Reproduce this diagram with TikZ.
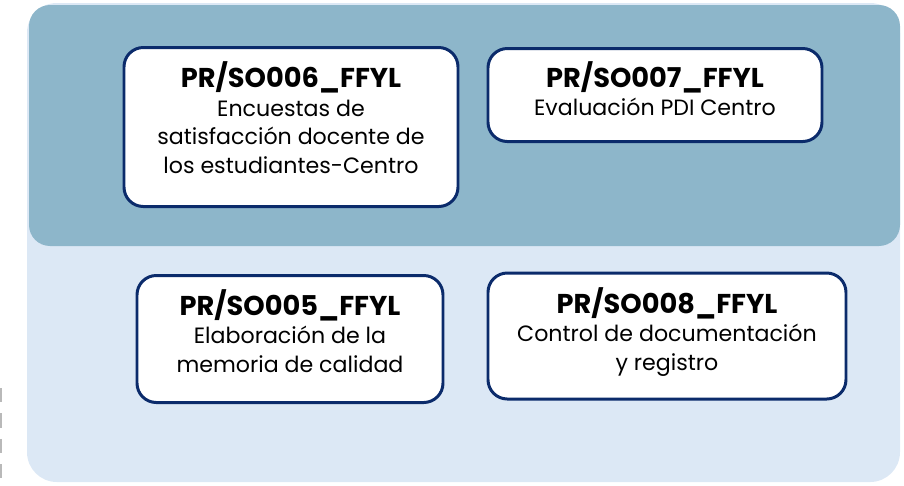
\documentclass[tikz,border=0pt]{standalone}
\usepackage{fontspec}
\setmainfont{Poppins}
\definecolor{panellight}{HTML}{DCE8F5}
\definecolor{paneldark}{HTML}{8DB6CA}
\definecolor{navy}{HTML}{0B2B6B}
\newcommand{\proctitle}[1]{{\fontsize{15.5}{18}\selectfont\bfseries #1}}
\begin{document}
\begin{tikzpicture}[x=0.02cm, y=-0.02cm,
    proc/.style={draw=navy, line width=1.7pt, fill=white, rounded corners=11pt,
      inner sep=0pt},
    proctext/.style={align=center, inner sep=0pt,
      font=\fontsize{12.6}{16.2}\selectfont}]
  \useasboundingbox (0,0) rectangle (904,485);
  % panels
  \fill[panellight, rounded corners=17pt] (27,3) rectangle (900,482);
  \fill[paneldark, rounded corners=12pt] (29,5) rectangle (900,246);
  \draw[gray!55, line width=1.2pt, dash pattern=on 8pt off 6.5pt] (1,388) -- (1,485);
  % boxes
  \node[proc, minimum width=334*0.02cm, minimum height=159*0.02cm,
    label={[proctext, yshift=5.3pt]center:{\proctitle{PR/SO006\_FFYL}\\Encuestas de\\satisfacción docente de\\los estudiantes-Centro}}]
    (so006) at (291,127) {};
  \node[proc, minimum width=334*0.02cm, minimum height=93*0.02cm,
    label={[proctext, yshift=3.6pt]center:{\proctitle{PR/SO007\_FFYL}\\Evaluación PDI Centro}}]
    (so007) at (655,95) {};
  \node[proc, minimum width=306*0.02cm, minimum height=127*0.02cm,
    label={[proctext, yshift=4.6pt]center:{\proctitle{PR/SO005\_FFYL}\\Elaboración de la\\memoria de calidad}}]
    (so005) at (290,339) {};
  \node[proc, minimum width=358*0.02cm, minimum height=126*0.02cm,
    label={[proctext, yshift=2.4pt]center:{\proctitle{PR/SO008\_FFYL}\\Control de documentación\\y registro}}]
    (so008) at (667,336) {};
\end{tikzpicture}
\end{document}
